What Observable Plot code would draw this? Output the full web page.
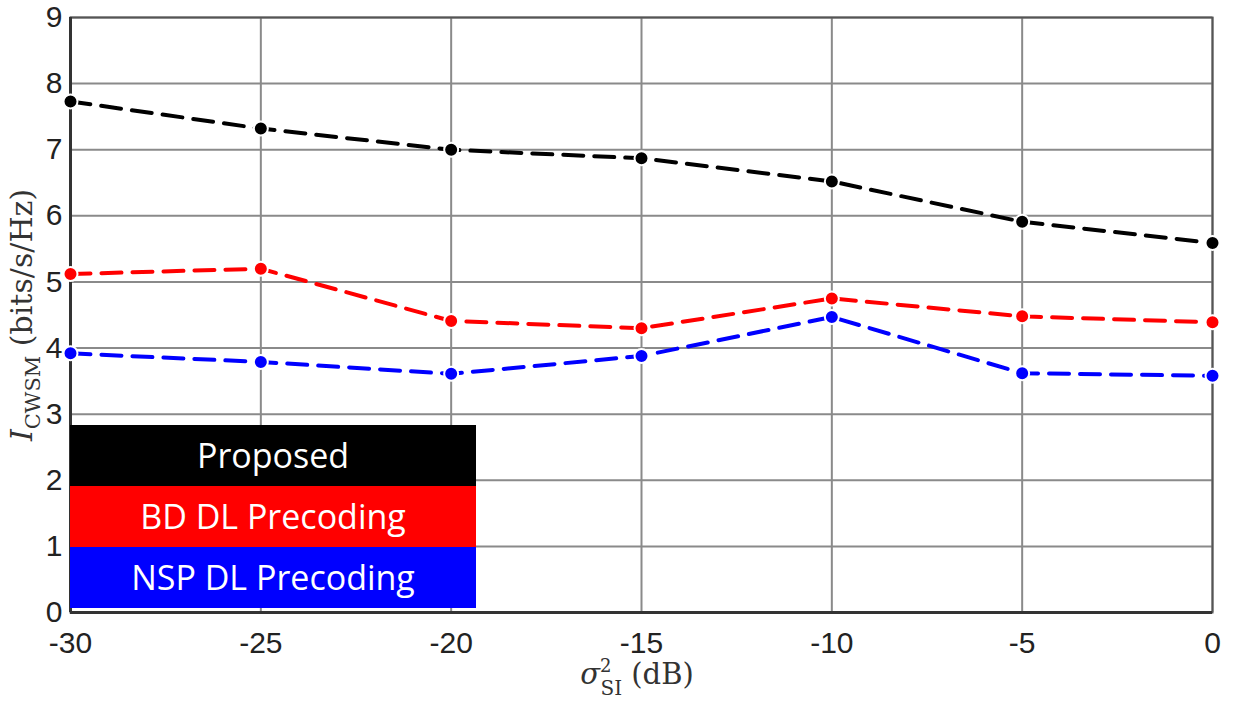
<!DOCTYPE html>
<html>
<head>
<meta charset="utf-8">
<script src="https://cdn.jsdelivr.net/npm/d3@7"></script>
<script src="https://cdn.jsdelivr.net/npm/@observablehq/plot@0.6"></script>
<style>
  html, body { margin: 0; padding: 0; background: #fff; }
  #wrap { position: relative; width: 1242px; height: 702px; }
  #legend { position: absolute; left: 70px; top: 425px; width: 406px; }
  #legend div { height: 61px; line-height: 61px; text-align: center; color: #fff;
    font-family: "Open Sans", sans-serif; font-size: 34px; }
</style>
</head>
<body>
<div id="wrap"></div>
<script>
const sigmaSI = [-30, -25, -20, -15, -10, -5, 0];
const proposed = [7.73, 7.32, 7.0, 6.87, 6.52, 5.91, 5.59];
const bdPrecoding = [5.12, 5.20, 4.41, 4.30, 4.75, 4.48, 4.39];
const nspPrecoding = [3.92, 3.79, 3.61, 3.88, 4.47, 3.62, 3.58];
const seriesNames = ["Proposed", "BD DL Precoding", "NSP DL Precoding"];
const seriesColors = ["#000000", "#ff0000", "#0000ff"];
const xTicks = [-30, -25, -20, -15, -10, -5, 0];
const yTicks = [0, 1, 2, 3, 4, 5, 6, 7, 8, 9];

const seriesValues = [proposed, bdPrecoding, nspPrecoding];
const data = seriesNames.flatMap((name, i) =>
  sigmaSI.map((x, j) => ({series: name, x, y: seriesValues[i][j]})));

const chart = Plot.plot({
  width: 1242,
  height: 702,
  marginLeft: 70,
  marginRight: 30,
  marginTop: 17,
  marginBottom: 90,
  style: {fontFamily: "'Liberation Sans', Arial, sans-serif", fontSize: "30px", color: "#222", background: "#fff"},
  x: {domain: [-30, 0], label: null},
  y: {domain: [0, 9], label: null},
  color: {domain: seriesNames, range: seriesColors},
  marks: [
    Plot.gridX(xTicks, {stroke: "#8a8a8a", strokeOpacity: 1, strokeWidth: 2}),
    Plot.gridY(yTicks, {stroke: "#8a8a8a", strokeOpacity: 1, strokeWidth: 2}),
    Plot.frame({stroke: "#555", strokeWidth: 2}),
    Plot.axisX(xTicks, {tickSize: 0, tickPadding: 19, tickFormat: d => String(d)}),
    Plot.axisY(yTicks, {tickSize: 0, tickPadding: 8, tickFormat: d => String(d)}),
    Plot.ruleX([-30], {stroke: "#333", strokeWidth: 3}),
    Plot.ruleY([0], {stroke: "#333", strokeWidth: 3}),
    Plot.line(data, {x: "x", y: "y", z: "series", stroke: "series", strokeWidth: 4, strokeDasharray: "20,11"}),
    Plot.dot(data, {x: "x", y: "y", fill: "series", stroke: "#fff", strokeWidth: 2, r: 7})
  ]
});

const svg = d3.select(chart);
svg.selectAll('g[aria-label="x-axis tick label"], g[aria-label="y-axis tick label"]')
  .attr("font-size", 30).attr("fill", "#222");
svg.selectAll('g[aria-label="x-axis tick label"] text, g[aria-label="y-axis tick label"] text')
  .attr("font-size", 30);

// x-axis label: σ²_SI (dB)
const xl = svg.append("text")
  .attr("x", 637).attr("y", 684)
  .attr("text-anchor", "middle")
  .attr("font-family", "'DejaVu Serif', 'Liberation Serif', serif")
  .attr("font-size", 29).attr("fill", "#333");
xl.append("tspan").attr("font-style", "italic").text("σ");
xl.append("tspan").attr("dy", -12).attr("font-size", 18).text("2");
xl.append("tspan").attr("dx", -11).attr("dy", 23).attr("font-size", 20).text("SI");
xl.append("tspan").attr("dy", -11).text(" (dB)");

// y-axis label: I_CWSM (bits/s/Hz)
const yl = svg.append("text")
  .attr("transform", "translate(32,315) rotate(-90)")
  .attr("text-anchor", "middle")
  .attr("font-family", "'DejaVu Serif', 'Liberation Serif', serif")
  .attr("font-size", 30).attr("fill", "#333");
yl.append("tspan").attr("font-style", "italic").text("I");
yl.append("tspan").attr("dy", 8).attr("font-size", 21).text("CWSM");
yl.append("tspan").attr("dy", -8).text(" (bits/s/Hz)");

const wrap = document.getElementById("wrap");
wrap.appendChild(chart);
const legend = document.createElement("div");
legend.id = "legend";
seriesNames.forEach((name, i) => {
  const row = document.createElement("div");
  row.style.background = seriesColors[i];
  row.textContent = name;
  legend.appendChild(row);
});
wrap.appendChild(legend);
</script>
</body>
</html>
